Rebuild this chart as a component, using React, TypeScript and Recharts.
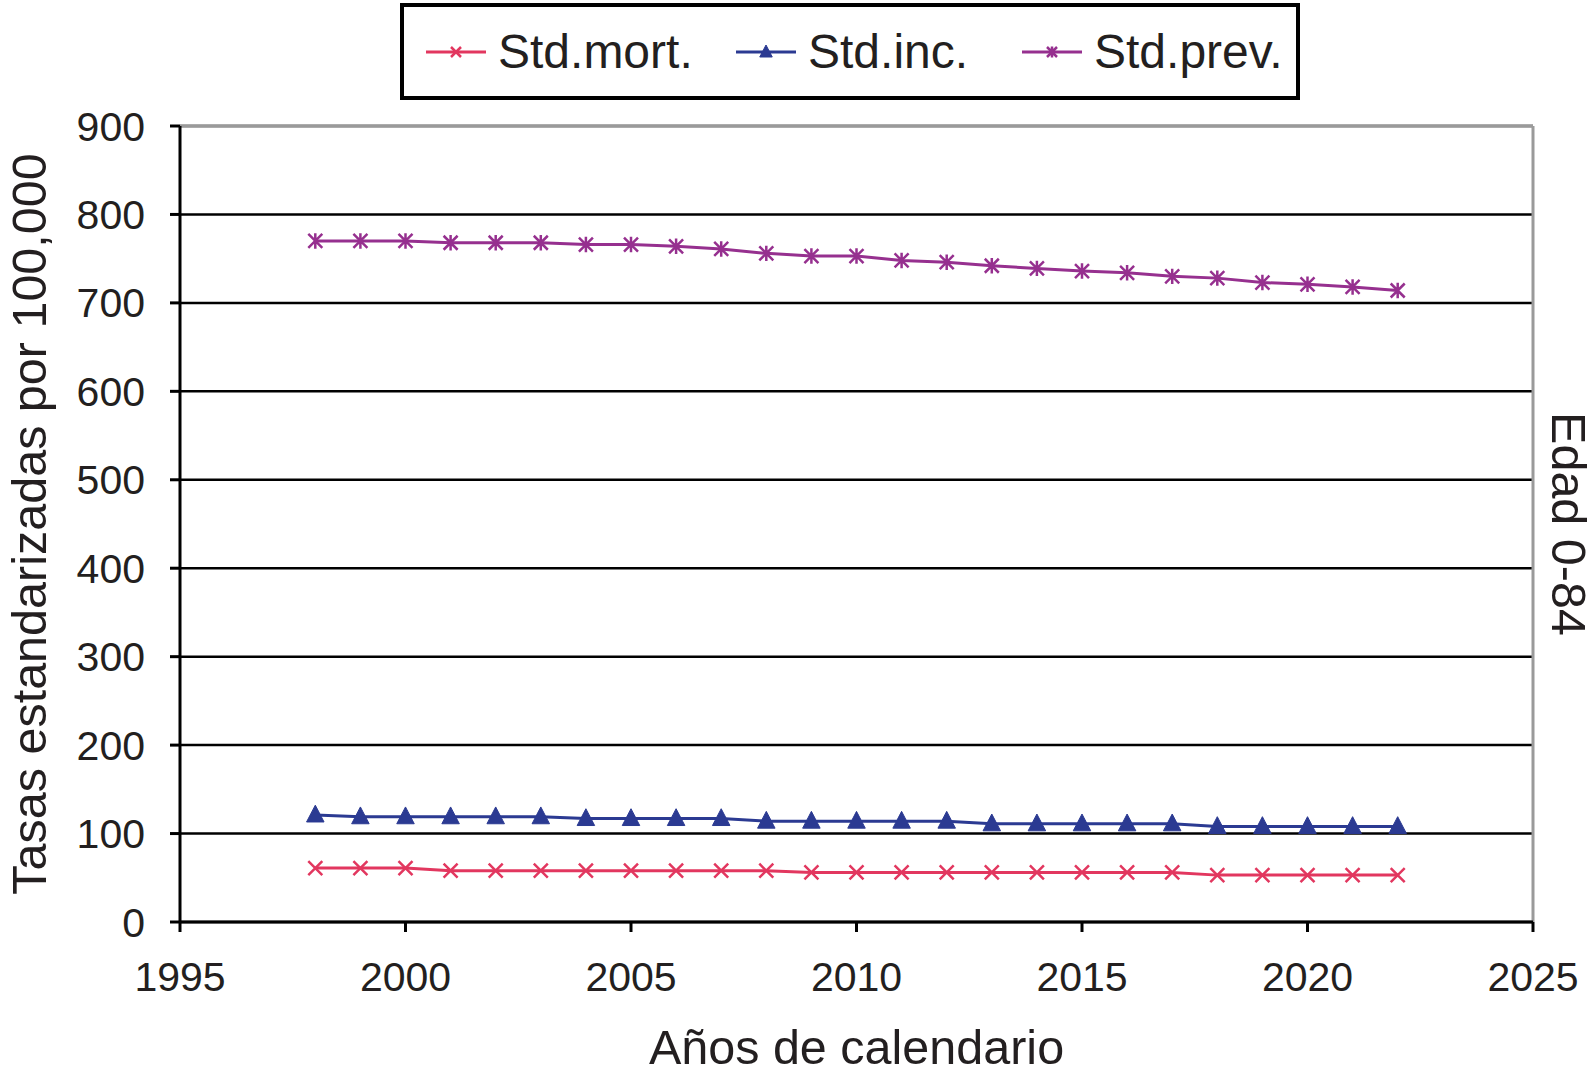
import React from "react";
import {
  LineChart,
  Line,
  XAxis,
  YAxis,
  CartesianGrid,
  ReferenceLine
} from "recharts";

const years = [
  1998, 1999, 2000, 2001, 2002, 2003, 2004, 2005, 2006, 2007, 2008, 2009, 2010,
  2011, 2012, 2013, 2014, 2015, 2016, 2017, 2018, 2019, 2020, 2021, 2022
];
const stdMort = [
  61, 61, 61, 58, 58, 58, 58, 58, 58, 58, 58, 56, 56, 56, 56, 56, 56, 56, 56, 56,
  53, 53, 53, 53, 53
];
const stdInc = [
  121, 119, 119, 119, 119, 119, 117, 117, 117, 117, 114, 114, 114, 114, 114, 111,
  111, 111, 111, 111, 108, 108, 108, 108, 108
];
const stdPrev = [
  770, 770, 770, 768, 768, 768, 766, 766, 764, 761, 756, 753, 753, 748, 746, 742,
  739, 736, 734, 730, 728, 723, 721, 718, 714
];
const xTicks = [1995, 2000, 2005, 2010, 2015, 2020, 2025];
const yTicks = [0, 100, 200, 300, 400, 500, 600, 700, 800, 900];

const MORT = "#e2375f";
const INC = "#2b3a92";
const PREV = "#96308f";
const FONT = "'Liberation Sans', Arial, sans-serif";
const TEXT = "#231f20";

const data = years.map((year, i) => ({
  year,
  mort: stdMort[i],
  inc: stdInc[i],
  prev: stdPrev[i]
}));

type Shape = "x" | "tri" | "star";

function marker(shape: Shape, cx: number, cy: number, color: string, s = 7) {
  if (shape === "tri") {
    return (
      <path
        d={`M${cx},${cy - s * 1.4}L${cx + s * 1.25},${cy + s}L${cx - s * 1.25},${cy + s}Z`}
        fill={color}
        stroke={color}
        strokeWidth={1}
      />
    );
  }
  const cross = `M${cx - s},${cy - s}L${cx + s},${cy + s}M${cx - s},${cy + s}L${cx + s},${cy - s}`;
  const d = shape === "star" ? cross + `M${cx},${cy - s * 1.1}L${cx},${cy + s * 1.1}` : cross;
  return <path d={d} stroke={color} strokeWidth={2.5} fill="none" />;
}

function dotFor(shape: Shape, color: string) {
  return (p: any) => (
    <g key={`${shape}-${p.index}`}>{marker(shape, p.cx, p.cy, color)}</g>
  );
}

const legendItems: { label: string; color: string; shape: Shape }[] = [
  { label: "Std.mort.", color: MORT, shape: "x" },
  { label: "Std.inc.", color: INC, shape: "tri" },
  { label: "Std.prev.", color: PREV, shape: "star" }
];
// left edge of each legend entry inside the box
const legendLeft = [22, 332, 618];

function ChartLegend() {
  return (
    <div
      style={{
        position: "absolute",
        left: 400,
        top: 3,
        width: 900,
        height: 97,
        border: "4px solid #000",
        boxSizing: "border-box",
        fontFamily: FONT,
        fontSize: 48,
        color: TEXT,
        background: "#fff"
      }}
    >
      {legendItems.map((it, i) => (
        <div
          key={it.label}
          style={{
            position: "absolute",
            left: legendLeft[i],
            top: 0,
            height: 89,
            display: "flex",
            alignItems: "center",
            gap: 12
          }}
        >
          <svg width={60} height={24}>
            <line x1={0} y1={12} x2={60} y2={12} stroke={it.color} strokeWidth={3} />
            {marker(it.shape, 30, 12, it.color, 5)}
          </svg>
          <span>{it.label}</span>
        </div>
      ))}
    </div>
  );
}

export default function App() {
  return (
    <div style={{ position: "absolute", left: 0, top: 0, width: 1596, height: 1086, background: "#fff" }}>
      <LineChart
        width={1596}
        height={1086}
        data={data}
        margin={{ top: 126, right: 0, bottom: 14, left: 0 }}
      >
        <CartesianGrid vertical={false} stroke="#000" strokeWidth={2.5} />
        <ReferenceLine y={900} stroke="#9a9a9a" strokeWidth={3} />
        <ReferenceLine x={2025} stroke="#9a9a9a" strokeWidth={3} />
        <XAxis
          dataKey="year"
          type="number"
          domain={[1995, 2025]}
          ticks={xTicks}
          interval={0}
          height={150}
          tickSize={10}
          tickMargin={30}
          axisLine={{ stroke: "#000", strokeWidth: 3 }}
          tickLine={{ stroke: "#000", strokeWidth: 3 }}
          tick={{ fontSize: 41, fill: TEXT, fontFamily: FONT }}
          label={{
            value: "Años de calendario",
            position: "insideBottom",
            offset: 8,
            style: { fontSize: 48.5, fill: TEXT, fontFamily: FONT }
          }}
        />
        <YAxis
          domain={[0, 900]}
          ticks={yTicks}
          interval={0}
          width={180}
          tickSize={10}
          tickMargin={25}
          axisLine={{ stroke: "#000", strokeWidth: 3 }}
          tickLine={{ stroke: "#000", strokeWidth: 3 }}
          tick={{ fontSize: 41, fill: TEXT, fontFamily: FONT }}
          label={{
            value: "Tasas estandarizadas por 100,000",
            angle: -90,
            position: "insideLeft",
            offset: 29,
            style: { fontSize: 48.5, fill: TEXT, fontFamily: FONT, textAnchor: "middle" }
          }}
        />
        <YAxis
          yAxisId="r"
          orientation="right"
          width={63}
          axisLine={false}
          tickLine={false}
          tick={false}
          label={{
            value: "Edad 0-84",
            angle: 90,
            position: "insideRight",
            offset: 27,
            style: { fontSize: 48.5, fill: TEXT, fontFamily: FONT, textAnchor: "middle" }
          }}
        />
        <Line
          dataKey="mort"
          type="linear"
          stroke={MORT}
          strokeWidth={3}
          dot={dotFor("x", MORT)}
          activeDot={false}
          isAnimationActive={false}
        />
        <Line
          dataKey="inc"
          type="linear"
          stroke={INC}
          strokeWidth={3}
          dot={dotFor("tri", INC)}
          activeDot={false}
          isAnimationActive={false}
        />
        <Line
          dataKey="prev"
          type="linear"
          stroke={PREV}
          strokeWidth={3}
          dot={dotFor("star", PREV)}
          activeDot={false}
          isAnimationActive={false}
        />
      </LineChart>
      <ChartLegend />
    </div>
  );
}
